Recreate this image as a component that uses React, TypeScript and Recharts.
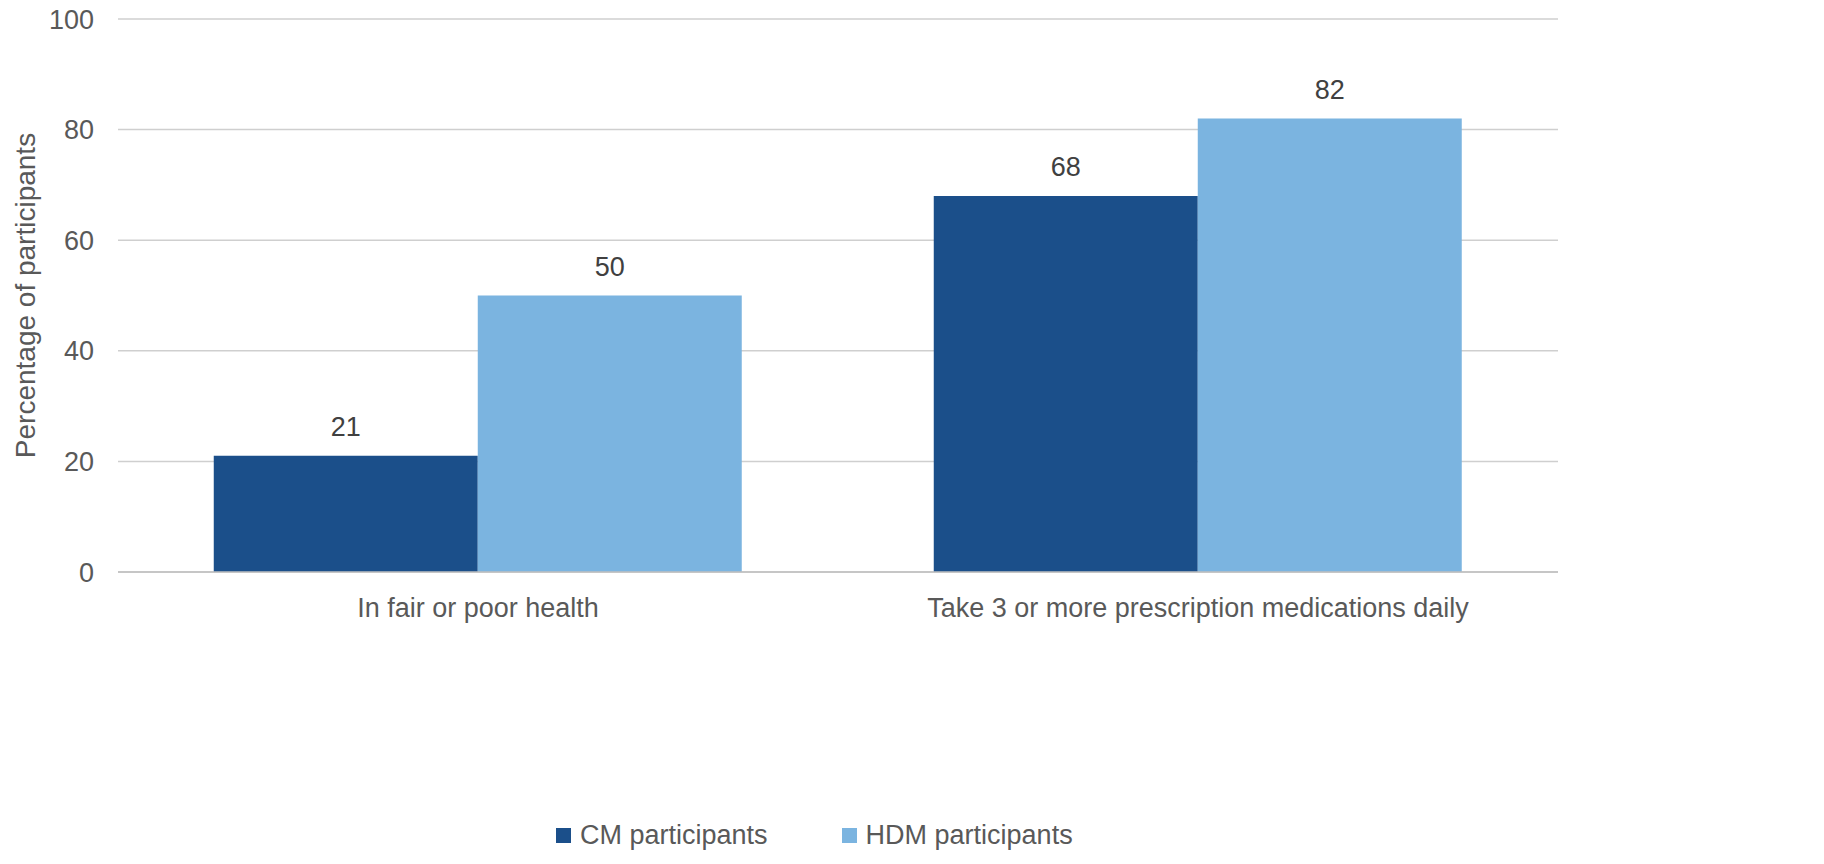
import { Bar, BarChart, CartesianGrid, Label, LabelList, Legend, XAxis, YAxis } from 'recharts';

const categories = ['In fair or poor health', 'Take 3 or more prescription medications daily'];
const cmParticipants = [21, 68];
const hdmParticipants = [50, 82];
const yTicks = [0, 20, 40, 60, 80, 100];

const seriesNames = { cm: 'CM participants', hdm: 'HDM participants' };
const colors = { cm: '#1B4F8A', hdm: '#7BB4E0' };

const data = categories.map((name, i) => ({
  name,
  cm: cmParticipants[i],
  hdm: hdmParticipants[i],
}));

const FONT = '"Liberation Sans", Arial, sans-serif';
const TEXT = '#595959';

const YTitle = ({ viewBox }: any) => {
  const cx = 25;
  const cy = viewBox.y + viewBox.height / 2;
  return (
    <text
      x={cx}
      y={cy}
      transform={`rotate(-90, ${cx}, ${cy})`}
      textAnchor="middle"
      dominantBaseline="central"
      fill={TEXT}
      fontSize={28}
      fontFamily={FONT}
    >
      Percentage of participants
    </text>
  );
};

const LegendContent = () => (
  <div style={{ display: 'flex', alignItems: 'center', fontFamily: FONT, fontSize: 27, color: TEXT }}>
    {(['cm', 'hdm'] as const).map((k) => (
      <div key={k} style={{ display: 'flex', alignItems: 'center', marginRight: 74 }}>
        <span style={{ width: 15, height: 15, background: colors[k], display: 'inline-block', marginRight: 9 }} />
        <span>{seriesNames[k]}</span>
      </div>
    ))}
  </div>
);

export default function App() {
  return (
    <div style={{ position: 'absolute', left: 0, top: 0, background: '#fff' }}>
      <BarChart
        width={1824}
        height={864}
        data={data}
        margin={{ top: 19, right: 266, left: 18, bottom: 232 }}
        barCategoryGap="13.3%"
        barGap={0}
      >
        <CartesianGrid vertical={false} stroke="#CFCFCF" strokeWidth={1.5} />
        <XAxis
          dataKey="name"
          height={60}
          tickLine={false}
          tickSize={0}
          tickMargin={26}
          axisLine={{ stroke: '#BFBFBF', strokeWidth: 1.5 }}
          tick={{ fill: TEXT, fontSize: 27, fontFamily: FONT }}
        />
        <YAxis
          width={100}
          domain={[0, 100]}
          ticks={yTicks}
          axisLine={false}
          tickLine={false}
          tickSize={0}
          tickMargin={24}
          tick={{ fill: TEXT, fontSize: 27, fontFamily: FONT }}
        >
          <Label content={YTitle} />
        </YAxis>
        <Legend
          verticalAlign="middle"
          align="center"
          content={LegendContent}
          wrapperStyle={{ top: 820, left: 556, width: 700 }}
        />
        <Bar dataKey="cm" name={seriesNames.cm} fill={colors.cm} isAnimationActive={false}>
          <LabelList dataKey="cm" position="top" offset={20} fill="#404040" fontSize={27} fontFamily={FONT} />
        </Bar>
        <Bar dataKey="hdm" name={seriesNames.hdm} fill={colors.hdm} isAnimationActive={false}>
          <LabelList dataKey="hdm" position="top" offset={20} fill="#404040" fontSize={27} fontFamily={FONT} />
        </Bar>
      </BarChart>
    </div>
  );
}
